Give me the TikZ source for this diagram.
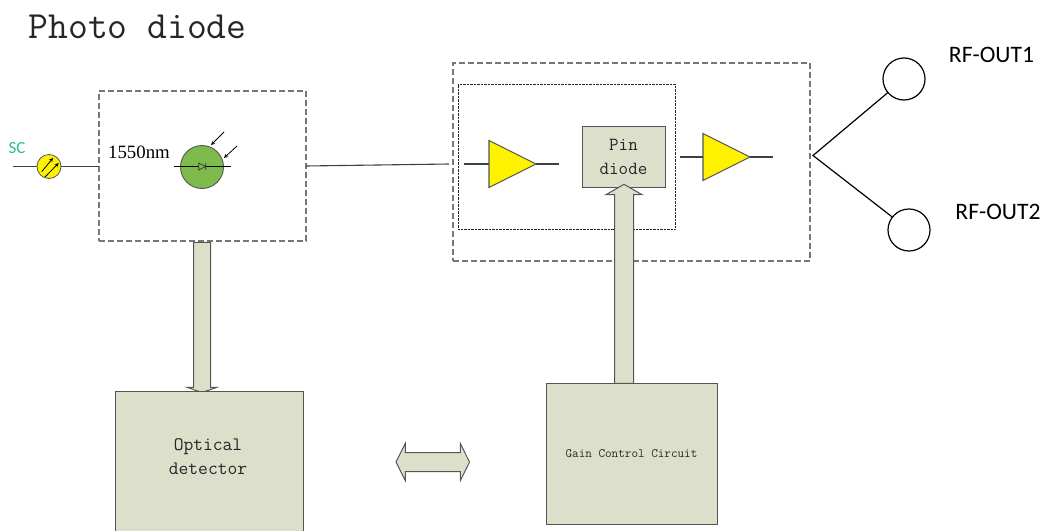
\documentclass[tikz,border=0pt]{standalone}
\usepackage{fontspec}
\newfontfamily\rffont{Carlito}
\newfontfamily\wavefont{Liberation Serif}
\usetikzlibrary{positioning,shapes.geometric,shapes.arrows}
\definecolor{boxfill}{HTML}{DCE0CB}
\definecolor{boxline}{HTML}{555555}
\definecolor{pdgreen}{HTML}{7DBB4C}
\definecolor{scgreen}{HTML}{2CBF7E}
\begin{document}
\begin{tikzpicture}[x=1pt,y=-1pt,
    dashbox/.style={draw=boxline!80,line width=1.1pt,dash pattern=on 6pt off 3pt,minimum width=#1},
    block/.style={draw=boxline,line width=1pt,fill=boxfill,font=\ttfamily,text=black!85,align=center,outer sep=0pt},
    amp/.style={isosceles triangle,isosceles triangle stretches,draw=boxline,line width=1.1pt,fill=yellow,
     minimum width=47pt,minimum height=47pt,inner sep=0pt,outer sep=0pt},
    wire/.style={draw=black!75,line width=1.1pt},
    pipe/.style={draw=boxline,line width=1pt,fill=boxfill,inner xsep=0pt,outer sep=0pt}]
 \clip (0,0) rectangle (1049,530);
 \node[font=\ttfamily\fontsize{38.5}{38.5}\selectfont,text=black!85,anchor=west] (title) at (25,27) {Photo diode};
 % dashed boxes
 \node[dashbox=207pt,minimum height=150pt,outer sep=0pt] (pdbox) at (202.5,166) {};
 \node[dashbox=357pt,minimum height=198pt,outer sep=0pt] (rfbox) at (631.5,162) {};
 \node[draw=black!85,densely dotted,minimum width=217pt,minimum height=145pt,outer sep=0pt] (pinbox) at (566.5,156.5) {};
 % source
 \node[circle,draw=boxline,line width=0.8pt,fill=yellow,minimum size=24pt,inner sep=0pt,outer sep=0pt] (sc) at (49,166.5) {};
 \node[text=scgreen,font=\rffont\fontsize{17}{17}\selectfont] (sclabel) at (17,148) {SC};
 \coordinate (scin) at (13,166.5);
 \path[-stealth,black,line width=0.8pt] (41.7,171.7) edge (53,158) (45,177) edge (58.7,163);
 \draw[wire] (scin) -- (sc) (sc) -- (sc-|pdbox.west);
 % photo diode
 \node[circle,draw=boxline,line width=0.9pt,fill=pdgreen,minimum size=43pt,inner sep=0pt,outer sep=0pt] (pd) at (202,167) {};
 \node[font=\wavefont\fontsize{18.8}{18.8}\selectfont,text=black] (wave) at (139,152) {1550nm};
 \draw[black,line width=0.8pt] (174,166.5) -- (231,166.5);
 \draw[black!80,line width=0.7pt,fill=pdgreen] (198.7,163) -- (198.7,170) -- (205.5,166.5) -- cycle (205.7,163) -- (205.7,170);
 \path[-stealth,black,line width=0.8pt] (224,132) edge (211,145) (237,146) edge (224,158);
 % amplifier chain
 \node[amp,anchor=lower side] (ampa) at (489,164) {};
 \node[amp,anchor=lower side] (ampb) at (703,157) {};
 \node[block,minimum width=83pt,minimum height=61pt,font=\ttfamily\fontsize{18.5}{24}\selectfont] (pin) at (623.5,156.5) {Pin\\diode};
 \coordinate (rfin) at (449,164);
 \coordinate (ampain) at (464,164);
 \coordinate (ampaout) at (559,164);
 \coordinate (ampbin) at (680,157);
 \coordinate (ampbout) at (773,157);
 \draw[wire] (pdbox.east) -- (rfin);
 \foreach \X/\Y in {ampain/ampa.lower side,ampa.apex/ampaout,ampbin/ampb.lower side,ampb.apex/ampbout}
  {\draw[wire] (\X) -- (\Y);}
 % control blocks
 \node[pipe,single arrow,rotate=-90,minimum height=150pt,inner ysep=8pt,single arrow head extend=6.5pt,
  single arrow tip angle=142,single arrow head indent=0pt] (pdpipe) at (202,316) {};
 \node[pipe,single arrow,rotate=90,minimum height=199pt,inner ysep=9pt,single arrow head extend=8.5pt,
  single arrow tip angle=120,single arrow head indent=0pt] (pinpipe) at (624,286.5) {};
 \node[block,minimum width=188pt,minimum height=149pt] (det) at (209,465.5) {};
 \node[font=\ttfamily\fontsize{19}{24}\selectfont,text=black!85,align=center] (detlabel) at (208,457) {Optical\\detector};
 \node[block,minimum width=171pt,minimum height=141pt] (gain) at (631.5,453.5) {\fontsize{12.8}{14}\selectfont Gain Control Circuit};
 \node[pipe,double arrow,minimum height=73.5pt,inner ysep=9pt,double arrow head extend=9pt,
  double arrow tip angle=127,double arrow head indent=0pt] (link) at (432.8,462) {};
 % outputs
 \node[circle,draw=black,line width=1.2pt,minimum size=42pt,inner sep=0pt,outer sep=0pt] (outa) at (904,79) {};
 \node[circle,draw=black,line width=1.2pt,minimum size=42pt,inner sep=0pt,outer sep=0pt] (outb) at (909,230) {};
 \coordinate (fork) at (813,155.5);
 \node[font=\rffont\fontsize{23.6}{23.6}\selectfont,text=black] (outalabel) at (991.5,55) {RF-OUT1};
 \node[font=\rffont\fontsize{23.6}{23.6}\selectfont,text=black] (outblabel) at (998,212) {RF-OUT2};
 \draw[black,line width=1.2pt] (outa) -- (fork) -- (outb);
\end{tikzpicture}
\end{document}
